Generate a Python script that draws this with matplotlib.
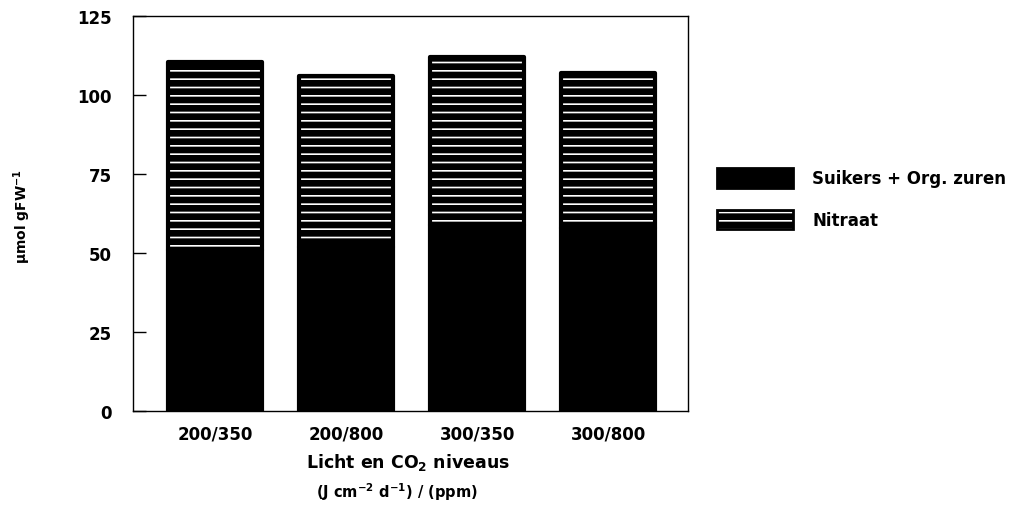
import matplotlib
matplotlib.use("Agg")
import matplotlib.pyplot as plt
from matplotlib.legend_handler import HandlerTuple
from matplotlib.patches import Patch

# light/CO2 treatments and stacked contents (umol per g fresh weight)
treatments = ["200/350", "200/800", "300/350", "300/800"]
suikers = [51, 52, 59, 58]
nitraat = [59.5, 54, 53, 49]

plt.rcParams["font.family"] = ["DejaVu Sans"]
plt.rcParams["font.weight"] = "bold"
plt.rcParams["mathtext.fontset"] = "custom"
plt.rcParams["mathtext.rm"] = "DejaVu Sans:bold"
plt.rcParams["mathtext.bf"] = "DejaVu Sans:bold"
plt.rcParams["hatch.linewidth"] = 1.2


def main():
    fig = plt.figure(figsize=(10.13, 5.06), dpi=100)
    ax = fig.add_axes([0.1313, 0.1858, 0.548, 0.7802])
    x = range(len(treatments))
    width = 0.72

    # solid bottom segment
    ax.bar(x, suikers, width, color="black", edgecolor="black",
           linewidth=3, joinstyle="round")
    # nitrate: black with white horizontal lines, then an outline on top
    ax.bar(x, nitraat, width, bottom=suikers, color="black",
           edgecolor="white", hatch="--", linewidth=0)
    ax.bar(x, nitraat, width, bottom=suikers, fill=False,
           edgecolor="black", linewidth=3, joinstyle="round")

    ax.set_xlim(-0.626, 3.61)
    ax.set_ylim(0, 125)
    ax.set_yticks([0, 25, 50, 75, 100, 125])
    ax.set_xticks(list(x))
    ax.set_xticklabels(treatments, fontsize=12)
    ax.tick_params(axis="x", length=0, pad=10)
    ax.tick_params(axis="y", direction="in", length=9, width=1,
                   labelsize=12, pad=15)
    for s in ax.spines.values():
        s.set_linewidth(1)

    fig.text(0.022, 0.573, r"µmol gFW$^{-1}$", rotation=90,
             ha="center", va="center", fontsize=10)
    fig.text(0.403, 0.085, r"Licht en CO$_2$ niveaus",
             ha="center", va="center", fontsize=12.5)
    fig.text(0.392, 0.028, r"(J cm$^{-2}$ d$^{-1}$) / (ppm)",
             ha="center", va="center", fontsize=10.5)

    h_suik = Patch(facecolor="black", edgecolor="black", linewidth=2)
    h_nitr = (Patch(facecolor="black", edgecolor="white", hatch="--",
                    linewidth=0),
              Patch(fill=False, edgecolor="black", linewidth=2))
    fig.legend([h_suik, h_nitr], ["Suikers + Org. zuren", "Nitraat"],
               handler_map={tuple: HandlerTuple(ndivide=1)},
               loc="upper left", bbox_to_anchor=(0.693, 0.696),
               frameon=False, fontsize=12, handlelength=4.56,
               handleheight=1.44, handletextpad=1.14, labelspacing=1.32)

    fig.savefig("out.png", dpi=100)


if __name__ == "__main__":
    main()
